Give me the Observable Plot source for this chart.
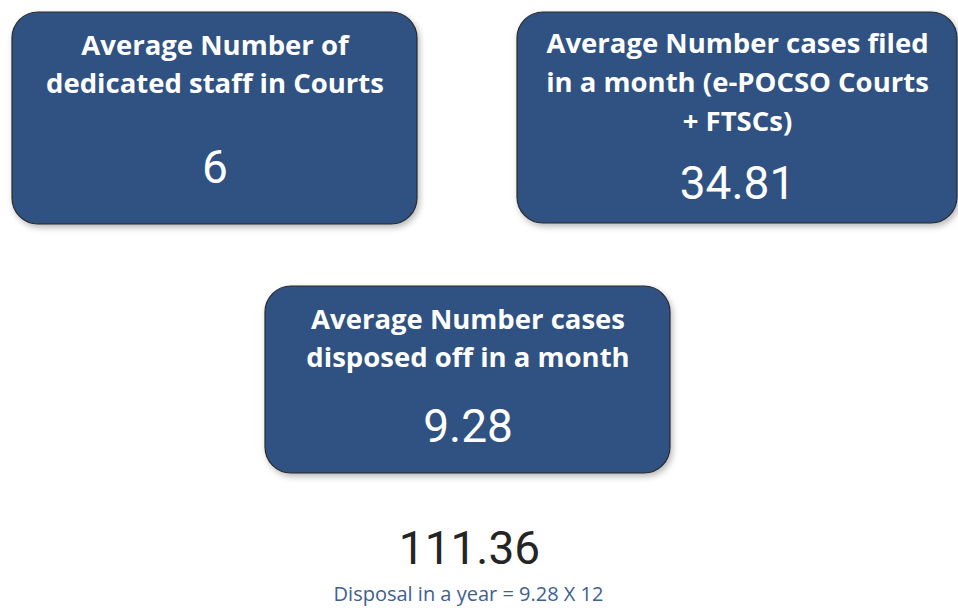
<!DOCTYPE html>
<html><head><meta charset="utf-8">
<script src="https://cdn.jsdelivr.net/npm/d3@7"></script>
<script src="https://cdn.jsdelivr.net/npm/@observablehq/plot@0.6"></script>
<style>html,body{margin:0;padding:0;background:#fff}svg{display:block}</style>
</head><body><div id="chart"></div>
<script>
// ---- data ----
const cardTitles = [
  "Average Number of\ndedicated staff in Courts",
  "Average Number cases filed\nin a month (e-POCSO Courts\n+ FTSCs)",
  "Average Number cases\ndisposed off in a month"
];
const cardValues = ["6", "34.81", "9.28"];
const annualValue = "111.36";
const annualLabel = "Disposal in a year = 9.28 X 12";

// ---- layout (pixel frame of the page) ----
const W = 958, H = 608;
const layout = [
  {left: 12,  right: 417, top: 12,  bottom: 224, titleMid: 61,  valueMid: 168},
  {left: 517, right: 957, top: 12,  bottom: 223, titleMid: 79, valueMid: 184},
  {left: 265, right: 670, top: 286, bottom: 473, titleMid: 335, valueMid: 427}
];
const cards = cardTitles.map((t, i) => ({title: t, value: cardValues[i], ...layout[i]}));
const footer = [{value: annualValue, label: annualLabel}];

const titleFont = "'Open Sans', 'Noto Sans', sans-serif";
const numFont = "Roboto, 'DejaVu Sans', sans-serif";

const chart = Plot.plot({
  width: W, height: H,
  margin: 0,
  x: {type: "identity", axis: null},
  y: {type: "identity", axis: null},
  marks: [
    Plot.rect(cards, {
      x1: "left", x2: "right", y1: "top", y2: "bottom",
      rx: 26, fill: "#2F5283", stroke: "#2a2a2a", strokeWidth: 1.2
    }),
    Plot.text(cards, {
      x: d => (d.left + d.right) / 2, y: "titleMid", text: "title",
      lineAnchor: "middle", lineHeight: 1.41,
      fontSize: 27.5, fontWeight: 700, fill: "white", fontFamily: titleFont
    }),
    Plot.text(cards, {
      x: d => (d.left + d.right) / 2, y: "valueMid", text: "value",
      lineAnchor: "middle", fontSize: 46, fontWeight: 400, fill: "white", fontFamily: numFont
    }),
    Plot.text(footer, {
      x: () => 469, y: () => 549, text: "value",
      lineAnchor: "middle", fontSize: 46, fontWeight: 400, fill: "#252525", fontFamily: numFont
    }),
    Plot.text(footer, {
      x: () => 468, y: () => 594, text: "label",
      lineAnchor: "middle", fontSize: 20, fill: "#3E5F8F", fontFamily: titleFont
    })
  ]
});
d3.select(chart).selectAll("g[aria-label=rect] rect").style("filter", "drop-shadow(2px 3px 3px rgba(0,0,0,0.28))");
document.getElementById("chart").append(chart);
</script>
</body></html>
